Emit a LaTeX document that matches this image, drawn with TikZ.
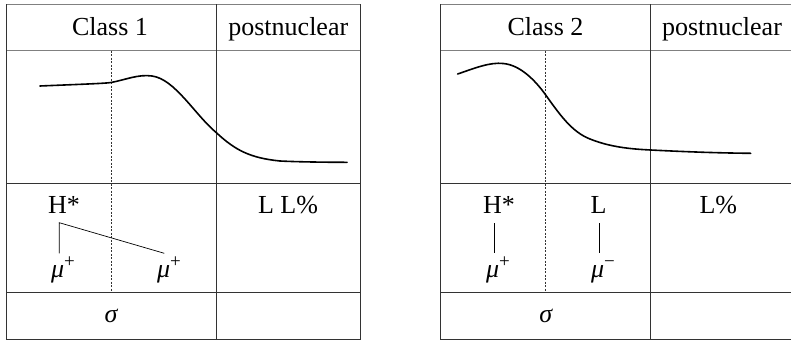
\documentclass[tikz,border=0pt]{standalone}
\usepackage{fontspec}
\setmainfont{Liberation Serif}
\newcommand{\gsym}[2]{{\itshape #1}\raisebox{0.36em}{\fontsize{19}{19}\selectfont #2}}
\begin{document}
\begin{tikzpicture}[x=1pt,y=-1pt,
  grid/.style={line width=0.8pt, draw=black!80},
  hdr/.style={line width=0.9pt, draw=black!50},
  tune/.style={line width=1.6pt, line join=round, line cap=round},
  divider/.style={line width=0.6pt, dash pattern=on 2pt off 1.5pt, draw=black!80},
  assoc/.style={line width=0.7pt},
  lab/.style={font=\fontsize{26}{30}\selectfont, inner sep=0pt, anchor=base},
  sym/.style={font=\fontsize{26}{30}\selectfont, inner sep=0pt, anchor=base}]
\useasboundingbox (0,0) rectangle (791,340);
\clip (0,0) rectangle (791,340);

% ---------- left table (Class 1) ----------
\draw[hdr] (6,4) -- (360.7,4);
\draw[hdr] (6,50.7) -- (360.7,50.7);
\draw[grid] (6,4) -- (6,339) -- (360.7,339) -- (360.7,4);
\draw[grid] (6,183.7) -- (360.7,183.7);
\draw[grid] (6,292.3) -- (360.7,292.3);
\draw[grid] (216.7,4) -- (216.7,339);
\draw[divider] (111,50.7) -- (111,292.3);

\node[lab] (c1) at (110,35) {Class 1};
\node[lab] (p1) at (288.3,35) {postnuclear};
\draw[tune] (40,86) .. controls (75,84.5) and (105,83.5) .. (111,82.5)
  .. controls (125,80) and (138,74) .. (152,76)
  .. controls (175,79) and (195,115) .. (216.7,133)
  .. controls (235,150) and (250,158) .. (280,161)
  .. controls (300,162) and (330,162.3) .. (347,162.3);

\node[lab] (h1) at (64,213) {H*};
\node[lab] (ll1) at (288,213) {L L\%};
\node[sym] (m1) at (63,277) {\gsym{μ}{+}};
\node[sym] (m2) at (169,277) {\gsym{μ}{+}};
\coordinate (t1) at (59.3,222.7);
\coordinate (b1) at (59.3,253.3);
\coordinate (b2) at (164.3,253.3);
\draw[assoc] (b1) -- (t1) -- (b2);
\node[sym] (s1) at (111,322) {{\itshape σ}};

% ---------- right table (Class 2) ----------
\draw[hdr] (440.7,4) -- (800,4);
\draw[hdr] (440.7,50.7) -- (800,50.7);
\draw[grid] (800,339) -- (440.7,339) -- (440.7,4);
\draw[grid] (440.7,183.7) -- (800,183.7);
\draw[grid] (440.7,292.3) -- (800,292.3);
\draw[grid] (650.7,4) -- (650.7,339);
\draw[divider] (545.7,50.7) -- (545.7,292.3);

\node[lab] (c2) at (545.5,35) {Class 2};
\node[lab] (p2) at (722,35) {postnuclear};
\draw[tune] (457.7,74) .. controls (475,68) and (490,62) .. (503.3,63.5)
  .. controls (520,65) and (535,80) .. (545.7,95)
  .. controls (560,115) and (572,132) .. (590,139)
  .. controls (610,147) and (630,149) .. (650.7,150)
  .. controls (690,152) and (720,153) .. (750.7,153.3);

\node[lab] (h2) at (499,213) {H*};
\node[lab] (l2) at (598.5,213) {L};
\node[lab] (lp2) at (718.3,213) {L\%};
\node[sym] (m3) at (498,277) {\gsym{μ}{+}};
\node[sym] (m4) at (603,277) {\gsym{μ}{−}};
\coordinate (t3) at (494,223);
\coordinate (b3) at (494,253);
\coordinate (t4) at (599.3,223);
\coordinate (b4) at (599.3,253);
\draw[assoc] (t3) -- (b3);
\draw[assoc] (t4) -- (b4);
\node[sym] (s2) at (545.7,322) {{\itshape σ}};
\end{tikzpicture}
\end{document}
